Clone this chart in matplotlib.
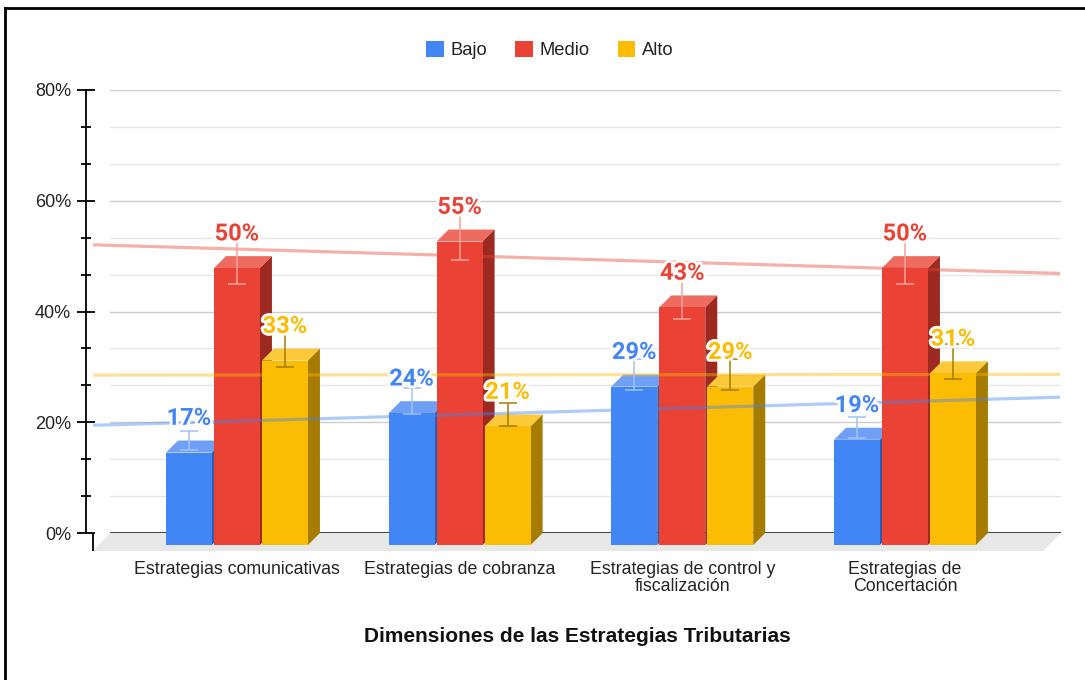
import numpy as np
import matplotlib
matplotlib.use("Agg")
import matplotlib.pyplot as plt
from matplotlib.patches import Polygon, Rectangle, Patch
from matplotlib.lines import Line2D
import matplotlib.patheffects as pe
from matplotlib.ticker import MultipleLocator, FuncFormatter

# ---------------- data ----------------
categories = ["Estrategias comunicativas", "Estrategias de cobranza",
              "Estrategias de control y\nfiscalización", "Estrategias de\nConcertación"]
series_names = ["Bajo", "Medio", "Alto"]
bajo = [16.7, 23.8, 28.6, 19.0]
medio = [50.0, 54.8, 42.9, 50.0]
alto = [33.3, 21.4, 28.6, 31.0]
y_ticks = [0, 20, 40, 60, 80]
x_title = "Dimensiones de las Estrategias Tributarias"

# ---------------- style ----------------
front_cols = ["#4285F4", "#EA4335", "#FBBC04"]
top_cols = ["#6FA0F6", "#EE6B60", "#FCC93A"]
side_cols = ["#2E5DAB", "#9C2A20", "#A67C00"]
err_cols = ["#A3C2F8", "#F3A29A", "#A67C00"]
FONT = ["Liberation Sans", "DejaVu Sans"]
plt.rcParams["font.family"] = FONT

W, H = 1085, 680
AX_L, AX_R, AX_T, AX_B = 110, 1061, 90, 533
XMIN, XMAX = -0.624, 3.647
YMAX = 80
ux = (AX_R - AX_L) / (XMAX - XMIN)
uy = (AX_B - AX_T) / YMAX
DEPTH = 12
FLOOR = 18
AXOUT = 17
PITCH = 48 / ux
BW = 46 / ux
dxf, dyf = -DEPTH / ux, -DEPTH / uy

fig = plt.figure(figsize=(W / 100, H / 100), dpi=100)
fig.patch.set_facecolor("white")
ax = fig.add_axes([AX_L / W, 1 - AX_B / H, (AX_R - AX_L) / W, (AX_B - AX_T) / H])
ax.set_xlim(XMIN, XMAX)
ax.set_ylim(0, YMAX)
ax.set_facecolor("none")

for s in ["top", "right", "bottom"]:
    ax.spines[s].set_visible(False)
ax.spines["left"].set_position(("outward", AXOUT))
ax.spines["left"].set_linewidth(1.3)
ax.spines["left"].set_color("black")
ax.plot([XMIN - AXOUT / ux] * 2, [0, -FLOOR / uy], color="black", lw=1.3,
        clip_on=False, zorder=3, solid_capstyle="butt")

ax.set_yticks(y_ticks)
ax.yaxis.set_major_formatter(FuncFormatter(lambda v, p: f"{v:.0f}%"))
ax.yaxis.set_minor_locator(MultipleLocator(20 / 3))
ax.tick_params(axis="y", which="major", direction="inout", length=13, width=1.3,
               pad=4.5, labelsize=13, labelcolor="#222222")
ax.tick_params(axis="y", which="minor", direction="inout", length=6.5, width=1.3)
ax.grid(which="major", axis="y", color="#cccccc", lw=1, zorder=0)
ax.grid(which="minor", axis="y", color="#e6e6e6", lw=1, zorder=0)
ax.set_axisbelow(True)
ax.axhline(0, color="#333333", lw=1.3, zorder=1)

# floor
floor = Polygon([(XMIN, 0), (XMAX, 0), (XMAX - FLOOR / ux, -FLOOR / uy),
                 (XMIN - AXOUT / ux, -FLOOR / uy)], closed=True,
                facecolor="#e8e8e8", edgecolor="none", clip_on=False, zorder=0.5)
ax.add_patch(floor)

# x ticks (category labels at front group centres)
xpos = np.arange(len(categories))
ax.set_xticks(xpos + dxf)
ax.set_xticklabels(categories, fontsize=12.8, color="#222222")
ax.tick_params(axis="x", length=0, pad=20)
for lbl in ax.get_xticklabels():
    lbl.set_linespacing(1.05)

# bars
series = [bajo, medio, alto]
for i, vals in enumerate(series):
    for j, v in enumerate(vals):
        xb = j + (i - 1) * PITCH
        x0, x1 = xb - BW / 2, xb + BW / 2
        z = 2 + j * 0.01 + i * 0.001
        top = Polygon([(x0 + dxf, v + dyf), (x1 + dxf, v + dyf), (x1, v), (x0, v)],
                      closed=True, facecolor=top_cols[i], edgecolor="none",
                      clip_on=False, zorder=z)
        side = Polygon([(x1 + dxf, v + dyf), (x1, v), (x1, 0), (x1 + dxf, dyf)],
                       closed=True, facecolor=side_cols[i], edgecolor="none",
                       clip_on=False, zorder=z)
        front = Rectangle((x0 + dxf, dyf), BW, v, facecolor=front_cols[i],
                          edgecolor="none", clip_on=False, zorder=z)
        ax.add_patch(top)
        ax.add_patch(side)
        ax.add_patch(front)

# trendlines
xl, xr = XMIN - AXOUT / ux, XMAX - 1 / ux
for i, vals in enumerate(series):
    k, b = np.polyfit(xpos, vals, 1)
    ax.plot([xl, xr], [k * xl + b, k * xr + b], color=front_cols[i], alpha=0.42,
            lw=2.3, clip_on=False, zorder=4, solid_capstyle="butt")

# error bars and labels
for i, vals in enumerate(series):
    for j, v in enumerate(vals):
        xf = j + (i - 1) * PITCH + dxf
        ax.errorbar([xf], [v], yerr=[0.1 * v], fmt="none", ecolor=err_cols[i],
                    elinewidth=1.1, capsize=6.5, capthick=1.1, zorder=5,
                    clip_on=False)
        ax.annotate(f"{v:.0f}%", (xf, v), xytext=(0, 16), textcoords="offset points",
                    ha="center", va="center", fontsize=17, fontweight="bold",
                    color=front_cols[i], family=["Roboto", "DejaVu Sans"], zorder=6,
                    path_effects=[pe.withStroke(linewidth=4, foreground="white")],
                    annotation_clip=False)

# x axis title
fig.text(577 / W, 1 - 637 / H, x_title, ha="center", va="center",
         fontsize=15, fontweight="bold", color="#111111")

# legend
handles = [Patch(facecolor=c, edgecolor="none") for c in front_cols]
fig.legend(handles, series_names, loc="center", bbox_to_anchor=(550 / W, 1 - 50 / H),
           ncol=3, frameon=False, fontsize=13.2, handlelength=0.95, handleheight=0.95,
           handletextpad=0.4, columnspacing=1.5, labelcolor="#222222")

# outer frame (left and top)
fig.add_artist(Line2D([5 / W, 5 / W], [0, 1 - 8 / H], transform=fig.transFigure,
                      color="black", lw=2))
fig.add_artist(Line2D([5 / W, 1], [1 - 8 / H, 1 - 8 / H], transform=fig.transFigure,
                      color="black", lw=2))

fig.savefig("out.png", dpi=100)
